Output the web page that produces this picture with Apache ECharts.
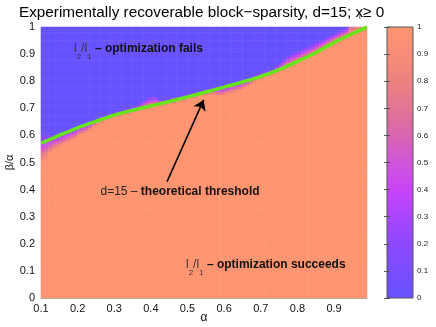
<!DOCTYPE html>
<html>
<head>
<meta charset="utf-8">
<script src="https://cdn.jsdelivr.net/npm/echarts@6/dist/echarts.min.js"></script>
<style>
  html, body { margin: 0; padding: 0; background: #fff; }
  #chart { width: 436px; height: 327px; }
</style>
</head>
<body>
<div id="chart"></div>
<script>
var FONT = '"Liberation Sans", Arial, Helvetica, sans-serif';

// alpha columns 0.10 .. 0.99, beta/alpha rows 0 .. 1 (step 0.01)
var alphaMin = 0.1, alphaMax = 0.99, cellStep = 0.01;

// empirical transition read per alpha column (centres 0.105 ... 0.985)
// below succeedEdge the recovery rate is 1, above failEdge it is 0
var succeedEdge = [
  0.500, 0.515, 0.530, 0.545, 0.553, 0.560, 0.567, 0.573, 0.580, 0.586,
  0.600, 0.605, 0.610, 0.620, 0.632, 0.644, 0.649, 0.654, 0.658, 0.663,
  0.667, 0.670, 0.674, 0.678, 0.681, 0.685, 0.688, 0.696, 0.699, 0.702,
  0.706, 0.709, 0.712, 0.710, 0.713, 0.717, 0.720, 0.724, 0.727, 0.730,
  0.734, 0.737, 0.741, 0.745, 0.748, 0.750, 0.751, 0.750, 0.746, 0.746,
  0.750, 0.754, 0.758, 0.761, 0.765, 0.773, 0.780, 0.790, 0.800, 0.806,
  0.811, 0.816, 0.821, 0.826, 0.831, 0.836, 0.847, 0.853, 0.859, 0.865,
  0.871, 0.878, 0.884, 0.890, 0.897, 0.904, 0.911, 0.924, 0.932, 0.939,
  0.946, 0.952, 0.959, 0.965, 0.971, 0.978, 0.984, 0.990, 0.997
];
var failEdge = [
  0.610, 0.610, 0.608, 0.606, 0.608, 0.612, 0.617, 0.622, 0.628, 0.633,
  0.638, 0.643, 0.648, 0.653, 0.658, 0.666, 0.671, 0.676, 0.680, 0.685,
  0.689, 0.692, 0.696, 0.700, 0.703, 0.707, 0.712, 0.722, 0.735, 0.745,
  0.748, 0.745, 0.735, 0.730, 0.733, 0.737, 0.740, 0.744, 0.747, 0.750,
  0.754, 0.757, 0.761, 0.765, 0.768, 0.772, 0.775, 0.779, 0.781, 0.784,
  0.788, 0.792, 0.796, 0.799, 0.803, 0.807, 0.811, 0.816, 0.824, 0.828,
  0.833, 0.838, 0.843, 0.848, 0.860, 0.872, 0.885, 0.898, 0.904, 0.910,
  0.916, 0.923, 0.929, 0.935, 0.942, 0.949, 0.956, 0.959, 0.967, 0.974,
  0.981, 0.987, 0.994, 1.000, 1.050, 1.050, 1.050, 1.050, 1.050
];

// theoretical threshold, d = 15
var thresholdAlpha = [0.10, 0.15, 0.20, 0.25, 0.30, 0.35, 0.40, 0.45, 0.50, 0.55,
                      0.60, 0.65, 0.70, 0.75, 0.80, 0.85, 0.90, 0.95, 0.99];
var thresholdRatio = [0.571, 0.600, 0.628, 0.652, 0.675, 0.693, 0.709, 0.725, 0.742, 0.760,
                      0.778, 0.797, 0.818, 0.843, 0.873, 0.905, 0.943, 0.975, 1.000];

// colormap, value 0 -> 1 in steps of 0.1
var colormap = ['#6652ff', '#7a4dff', '#8e48ff', '#aa45fd', '#c845f8', '#cf55d8',
                '#d866b2', '#e27594', '#ec8280', '#f78d76', '#ff9470'];

var arrowFrom = [0.444, 0.429];
var arrowTo = [0.544, 0.731];

// build heatmap cells from the read edges
var alphaCols = succeedEdge.map(function (s, i) { return (alphaMin + (i + 0.5) * cellStep).toFixed(3); });
var ratioRows = [];
for (var r = 0; r < 100; r++) ratioRows.push(((r + 0.5) * cellStep).toFixed(3));
var cells = [];
succeedEdge.forEach(function (s, i) {
  var f = failEdge[i];
  ratioRows.forEach(function (rs, j) {
    var y = +rs;
    var v = y <= s ? 1 : (y >= f ? 0 : (f - y) / (f - s));
    cells.push([i, j, +v.toFixed(3)]);
  });
});

var chart = echarts.init(document.getElementById('chart'));

var richText = {
  n: { fontSize: 12, fontFamily: FONT, fill: '#333', lineHeight: 24, verticalAlign: 'middle' },
  s: { fontSize: 8, fontFamily: FONT, fill: '#333', lineHeight: 12, verticalAlign: 'bottom' },
  r: { fontSize: 12, fontFamily: FONT, fill: '#222', lineHeight: 24, verticalAlign: 'middle' },
  b: { fontSize: 12, fontFamily: FONT, fontWeight: 'bold', fill: '#111', lineHeight: 24, verticalAlign: 'middle' }
};

function note(x, y, text) {
  return { type: 'text', x: x, y: y, z: 100, silent: true,
    style: { text: text, rich: richText, verticalAlign: 'middle', align: 'left' } };
}

var plotBox = { left: 41, top: 27, width: 326, height: 271, containLabel: false, outerBoundsMode: 'none' };
var barBox = { left: 387, top: 27, width: 26, height: 271 };

var option = {
  animation: false,
  textStyle: { fontFamily: FONT },
  grid: [
    plotBox,
    plotBox,
    { left: barBox.left, top: barBox.top, width: barBox.width, height: barBox.height,
      containLabel: false, outerBoundsMode: 'none' }
  ],
  xAxis: [
    { gridIndex: 0, type: 'category', data: alphaCols, show: false },
    {
      gridIndex: 1, type: 'value', min: alphaMin, max: alphaMax, interval: 0.1,
      name: 'α', nameLocation: 'middle', nameGap: 14, nameMoveOverlap: false,
      nameTextStyle: { fontSize: 12, color: '#111' },
      axisLine: { show: true, lineStyle: { color: '#aaa' } },
      axisTick: { show: false }, splitLine: { show: false },
      axisLabel: { fontSize: 11, color: '#111', margin: 5, showMaxLabel: false }
    },
    { gridIndex: 2, type: 'value', min: 0, max: 1, show: false }
  ],
  yAxis: [
    { gridIndex: 0, type: 'category', data: ratioRows, show: false },
    {
      gridIndex: 1, type: 'value', min: 0, max: 1, interval: 0.1,
      name: 'β/α', nameLocation: 'middle', nameGap: 26, nameRotate: 90, nameMoveOverlap: false,
      nameTextStyle: { fontSize: 11, color: '#111' },
      axisLine: { show: true, lineStyle: { color: '#aaa' } },
      axisTick: { show: false }, splitLine: { show: false },
      axisLabel: { fontSize: 11, color: '#111', margin: 6 }
    },
    {
      gridIndex: 2, type: 'value', min: 0, max: 1, interval: 0.1, position: 'right', z: 10,
      axisLine: { show: false }, splitLine: { show: false },
      axisTick: { show: true, inside: true, length: 3, lineStyle: { color: '#555' } },
      axisLabel: { fontSize: 8, color: '#222', margin: 4 }
    },
    {
      gridIndex: 2, type: 'value', min: 0, max: 1, interval: 0.1, position: 'left', z: 10,
      axisLine: { show: false }, splitLine: { show: false },
      axisTick: { show: true, inside: true, length: 3, lineStyle: { color: '#555' } },
      axisLabel: { show: false }
    }
  ],
  visualMap: {
    type: 'continuous', show: false, min: 0, max: 1, seriesIndex: 0,
    inRange: { color: colormap }
  },
  series: [
    {
      type: 'heatmap', xAxisIndex: 0, yAxisIndex: 0, data: cells,
      progressive: 0, silent: true, emphasis: { disabled: true }
    },
    {
      type: 'line', xAxisIndex: 1, yAxisIndex: 1, z: 5,
      data: thresholdAlpha.map(function (a, i) { return [a, thresholdRatio[i]]; }),
      smooth: 0.3, showSymbol: false, silent: true,
      lineStyle: { color: '#66e619', width: 3.5 },
      markLine: {
        silent: true, symbol: ['none', 'arrow'], symbolSize: 10,
        label: { show: false },
        lineStyle: { color: '#000', width: 1.6, type: 'solid' },
        data: [[{ coord: arrowFrom }, { coord: arrowTo }]]
      }
    }
  ],
  graphic: [
    { type: 'text', x: 19, y: 12.5, z: 100, silent: true,
      style: { text: 'Experimentally recoverable block\u2212sparsity, d=15; x\u2265 0',
               fontSize: 15.3, fontFamily: FONT, fill: '#000', verticalAlign: 'middle' } },
    { type: 'text', x: 359, y: 16.5, z: 100, silent: true,
      style: { text: 'i', fontSize: 8, fontFamily: FONT, fill: '#000', verticalAlign: 'middle' } },
    note(74, 49, '{n|l}{s|2}{n|/l}{s|1}{b| \u2013 optimization fails}'),
    note(100.5, 191.5, '{r|d=15 \u2013 }{b|theoretical threshold}'),
    note(186, 265, '{n|l}{s|2}{n|/l}{s|1}{b| \u2013 optimization succeeds}'),
    // colour bar: the same colormap as the visualMap, bottom = 0, top = 1
    { type: 'rect', z: 1, silent: true,
      shape: { x: barBox.left, y: barBox.top, width: barBox.width, height: barBox.height },
      style: { fill: { type: 'linear', x: 0, y: 1, x2: 0, y2: 0,
        colorStops: colormap.map(function (c, i) { return { offset: i / (colormap.length - 1), color: c }; }) } } },
    { type: 'rect', z: 100, silent: true,
      shape: { x: barBox.left, y: barBox.top, width: barBox.width, height: barBox.height },
      style: { fill: 'none', stroke: '#555', lineWidth: 1 } }
  ]
};

chart.setOption(option);
</script>
</body>
</html>
